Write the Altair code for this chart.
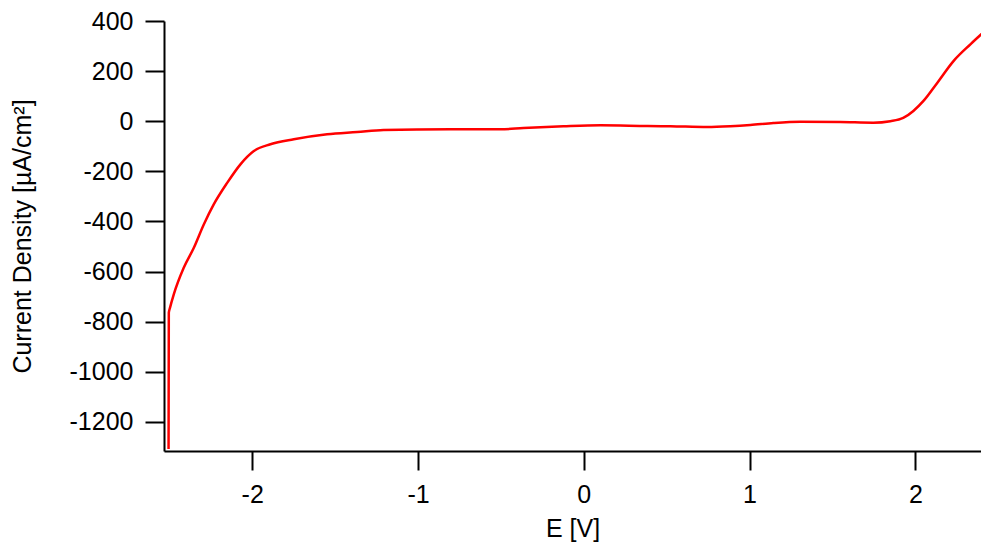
import altair as alt
import pandas as pd

potential_v = [-2.5045, -2.503, -2.496, -2.473, -2.413, -2.352, -2.292, -2.232, -2.151, -2.071,
               -1.990, -1.890, -1.749, -1.548, -1.367, -1.208, -0.804, -0.502, -0.364, -0.123,
               0.101, 0.384, 0.523, 0.745, 0.884, 1.005, 1.144, 1.307, 1.547, 1.746,
               1.849, 1.927, 1.988, 2.049, 2.133, 2.230, 2.332, 2.441]
current_density = [-1308, -764, -745, -691, -585, -505, -412, -332, -246, -172,
                   -119, -92, -72, -52, -43, -35, -32, -32, -27, -20,
                   -16, -19, -20, -23, -20, -15, -7, -2, -3, -6,
                   0, 13, 41, 81, 154, 240, 307, 373]

x_ticks = [-2, -1, 0, 1, 2]
y_ticks = [-1200, -1000, -800, -600, -400, -200, 0, 200, 400]

df = pd.DataFrame({"E": potential_v, "J": current_density})

FONT = "Liberation Sans"
FS = 25

line = alt.Chart(df).mark_line(color="#ff0000", strokeWidth=2.5, clip=True,
                               interpolate="monotone").encode(
    x=alt.X("E:Q", scale=alt.Scale(domain=[-2.532, 2.396], nice=False, zero=False),
            axis=alt.Axis(values=x_ticks, title="E [V]", grid=False, format="d",
                          labelExpr="replace(datum.label, '\u2212', '-')")),
    y=alt.Y("J:Q", scale=alt.Scale(domain=[-1316, 400], nice=False, zero=False),
            axis=alt.Axis(values=y_ticks, title="Current Density [µA/cm²]", grid=False, format="d",
                          labelExpr="replace(datum.label, '\u2212', '-')")),
)

chart = line.properties(
    width=817, height=430,
    autosize=alt.AutoSizeParams(type="none"),
    padding={"left": 156, "top": 13, "right": 0, "bottom": 91},
).configure_view(stroke=None).configure_axis(
    domainColor="black", domainWidth=2, tickColor="black", tickWidth=2, tickSize=19,
    labelFont=FONT, labelFontSize=FS, labelColor="black", labelPadding=12,
    titleFont=FONT, titleFontSize=FS, titleColor="black", titleFontWeight="normal",
).configure_axisY(titlePadding=34).configure_axisX(titlePadding=9)

chart.save("out.html", embed_options={"renderer": "svg", "actions": False})
